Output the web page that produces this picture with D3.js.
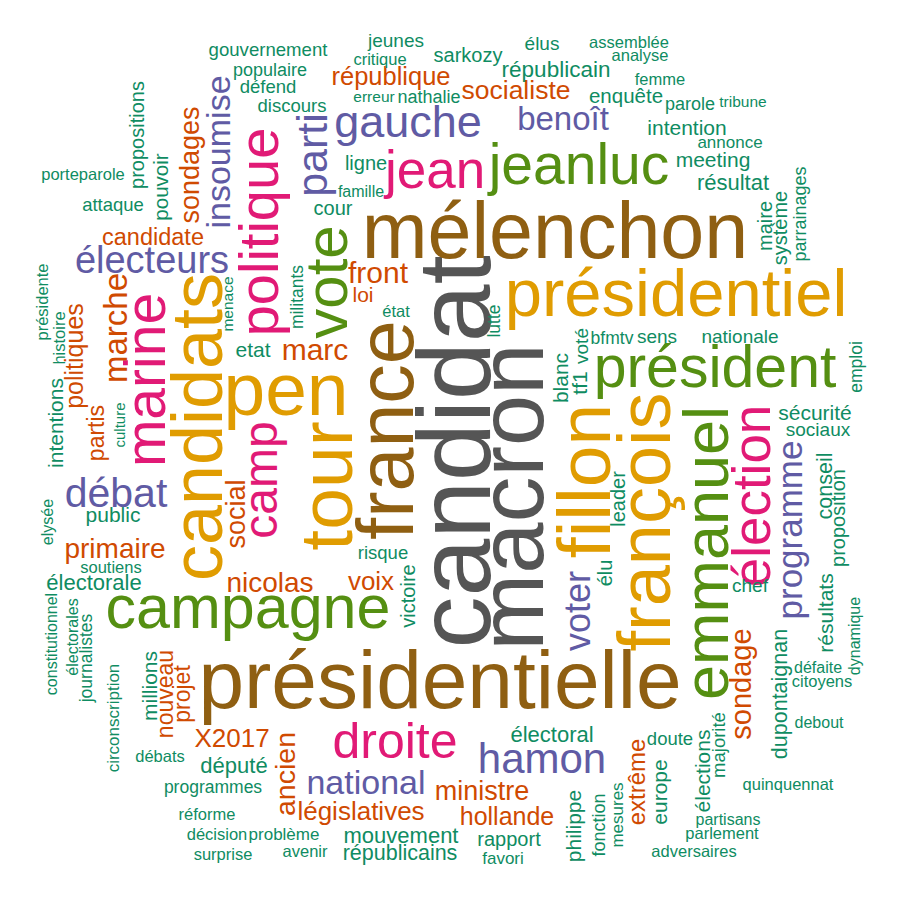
<!DOCTYPE html>
<html><head><meta charset="utf-8">
<script src="https://cdn.jsdelivr.net/npm/d3@7"></script>
<style>body{margin:0;background:#fff}</style>
</head><body>
<script>
// ---- data: words, relative frequency (font weight of the cloud), frequency class ----
const words = [
 "candidat","macron","présidentielle","mélenchon","france","pen","tour","fillon","françois","candidats",
 "présidentiel","emmanuel","campagne","vote","président","jeanluc","marine","politique","jean","élection",
 "droite","camp","gauche","parti","hamon","débat","électeurs","voter","programme","insoumise",
 "national","benoît","marche","front","marc","sondage","ancien","nicolas","primaire","social",
 "ministre","sondages","socialiste","voix","X2017","législatives","république","politiques","hollande","extrême",
 "candidate","partis","nouveau","projet","loi",
 "gouvernement","populaire","défend","discours","propositions","porteparole","attaque","pouvoir","jeunes","critique",
 "sarkozy","élus","républicain","erreur","nathalie","ligne","famille","cour","état","lutte",
 "menace","militants","etat","risque","victoire","assemblée","analyse","femme","enquête","parole",
 "tribune","intention","annonce","meeting","résultat","maire","système","parrainages","présidente","histoire",
 "intentions","culture","public","elysée","soutiens","électorale","constitutionnel","électorales","journalistes","circonscription",
 "millions","débats","député","programmes","réforme","décision","problème","surprise","avenir","électoral",
 "mouvement","républicains","rapport","favori","philippe","fonction","élu","chef","bfmtv","sens",
 "nationale","voté","blanc","tf1","sécurité","sociaux","emploi","conseil","proposition","leader",
 "résultats","dynamique","dupontaignan","défaite","citoyens","debout","majorité","élections","doute","europe",
 "mesures","quinquennat","partisans","parlement","adversaires"
];
const freq = [
 104,92,82,79,79,75,75,75,74,72,
 67,63,61,60,59,57,57,56,53,53,
 50,48,45,43,42,41,38,36,35,34,
 34,33,33,30,30,29,28.5,28,28,27,
 27,27,26.5,26,26,26,25.5,25,25,24,
 23.5,23,23,23,21,
 18.6,18,18.5,18.5,20,16.5,18.5,20.5,19,16.5,
 20,19,22.5,15.5,18,20,16,20,16.5,17.5,
 15.5,17.5,21,18.5,20,16.5,16.5,16.5,20.5,18,
 15.5,21,17,21,22,20,20,18,16.5,16.5,
 21,15,21,16,16.5,22,16,16,17.5,17,
 21,16.5,22,17.5,16.5,16.5,17,16.5,16.5,22,
 22,21.5,20,17,21,18,20,19,17.5,19,
 19,19,21,21,21,19,17.5,21.5,20,20,
 21,16,21.5,16,16.5,16,18.5,21,18.5,21,
 17,16.5,16,16.5,16.5
];
// frequency class 0 (rarest) .. 7 (most frequent)
const group = [
 7,7,6,6,6,5,5,5,5,5,
 5,4,4,4,4,4,3,3,3,3,
 3,3,2,2,2,2,2,2,2,2,
 2,2,1,1,1,1,1,1,1,1,
 1,1,1,1,1,1,1,1,1,1,
 1,1,1,1,1
].concat(new Array(90).fill(0));
const palette = ["#0f8c62","#d04a01","#605ba4","#e11a76","#558f12","#e09c01","#8f5f12","#555555"];

// ---- cloud layout (layout units, rotation in degrees) ----
const layout = [
 [490,452,90],[543,497,90],[440,708,0],[555,258,0],[413,430,90],[286,415,0],[352,486,90],[610,481,90],[670,522,90],[222,427,90],
 [676,316,0],[728,553,90],[248,628,0],[347,282,90],[715,387,0],[579,184,0],[165,380,90],[278,232,90],[435,188,0],[770,496,90],
 [395,758,0],[277,480,90],[408,137,0],[327,155,90],[542,773,0],[116,507,0],[152,273,0],[590,611,90],[802,530,90],[230,152,90],
 [366,794,0],[563,130,0],[127,328,90],[378,283,0],[315,360,0],[751,684,90],[295,774,90],[270,592,0],[115,558,0],[245,514,90],
 [482,800,0],[199,165,90],[516,99,0],[371,590,0],[232,747,0],[361,820,0],[391,85,0],[83,356,90],[507,825,0],[645,782,90],
 [153,245,0],[104,433,90],[173,694,90],[190,694,90],[363,302,0],
 [268,56,0],[270,76,0],[268,93,0],[292,112,0],[144,135,90],[83,180,0],[113,211,0],[168,187,90],[396,47,0],[380,65,0],
 [468,62,0],[542,50,0],[556,77,0],[374,102,0],[429,103,0],[366,170,0],[361,197,0],[333,215,0],[396,317,0],[500,321,90],
 [233,304,90],[303,297,90],[253,357,0],[383,559,0],[415,596,90],[629,48,0],[640,61,0],[660,85,0],[626,103,0],[690,110,0],
 [743,107,0],[687,135,0],[730,148,0],[713,167,0],[733,190,0],[772,226,90],[787,228,90],[806,214,90],[48,302,90],[65,338,90],
 [63,423,90],[125,425,90],[113,522,0],[53,522,90],[111,573,0],[94,590,0],[57,644,90],[78,637,90],[92,658,90],[119,718,90],
 [157,686,90],[160,762,0],[234,773,0],[213,793,0],[207,820,0],[217,840,0],[284,840,0],[223,860,0],[305,857,0],[552,742,0],
 [401,843,0],[400,860,0],[509,846,0],[503,864,0],[581,826,90],[605,825,90],[612,573,90],[750,592,0],[612,344,0],[657,343,0],
 [740,343,0],[588,346,90],[568,378,90],[587,383,90],[815,420,0],[818,436,0],[862,367,90],[832,486,90],[845,518,90],[625,499,90],
 [833,613,90],[860,636,90],[787,694,90],[818,673,0],[822,687,0],[819,728,0],[725,745,90],[710,771,90],[670,745,0],[667,792,90],
 [623,815,90],[788,790,0],[728,825,0],[722,839,0],[694,857,0]
];

const W = 900, H = 900;
const svg = d3.select("body").append("svg").attr("width", W).attr("height", H)
  .style("background", "#fff");
const x = d3.scaleLinear().domain([0, 900]).range([0, W]);
const y = d3.scaleLinear().domain([0, 900]).range([0, H]);
const size = d3.scaleLinear().domain([0, 100]).range([0, 100]);
const color = d3.scaleOrdinal().domain(d3.range(8)).range(palette);

svg.append("g")
  .selectAll("text")
  .data(d3.range(words.length))
  .join("text")
  .attr("transform", i => `translate(${x(layout[i][0])},${y(layout[i][1])}) rotate(${-layout[i][2]})`)
  .attr("text-anchor", "middle")
  .style("font-family", "'Liberation Sans', Arial, Helvetica, sans-serif")
  .style("font-size", i => size(freq[i]) + "px")
  .attr("fill", i => color(group[i]))
  .text(i => words[i]);
</script>
</body></html>
